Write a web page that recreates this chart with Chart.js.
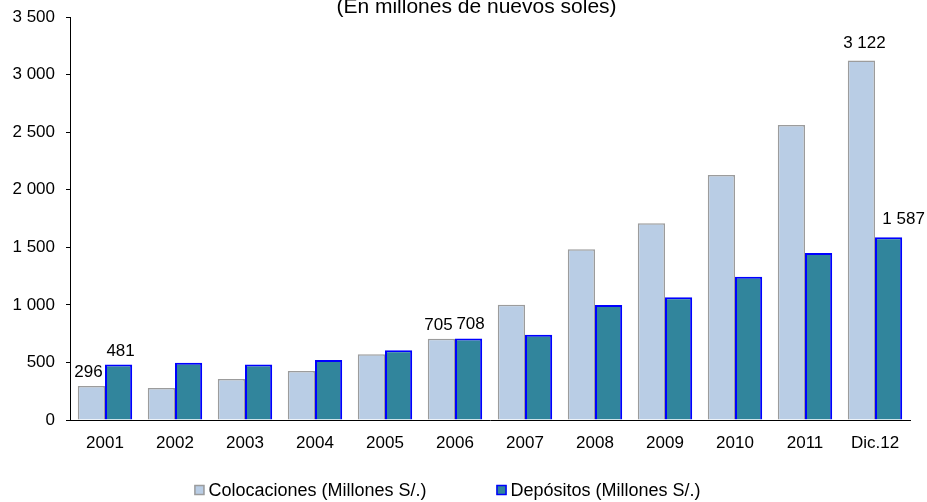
<!DOCTYPE html>
<html>
<head>
<meta charset="utf-8">
<script src="https://cdn.jsdelivr.net/npm/chart.js@4/dist/chart.umd.min.js"></script>
<style>
  html, body { margin: 0; padding: 0; background: #fff; }
  #wrap { width: 927px; height: 502px; position: relative; }
</style>
</head>
<body>
<div id="wrap"><canvas id="c" width="927" height="502"></canvas></div>
<script>
// Categories and series (millones de nuevos soles)
const years = ['2001', '2002', '2003', '2004', '2005', '2006', '2007', '2008', '2009', '2010', '2011', 'Dic.12'];
const colocaciones = [296, 278, 356, 426, 570, 705, 1002, 1482, 1708, 2128, 2563, 3122];
const depositos = [481, 498, 483, 521, 605, 708, 741, 999, 1065, 1245, 1451, 1587];
const labeledYears = ['2001', '2006', 'Dic.12'];
const yTicks = [0, 500, 1000, 1500, 2000, 2500, 3000, 3500];
const titleText = '(En millones de nuevos soles)';
const seriesNames = ['Colocaciones (Millones S/.)', 'Depósitos (Millones S/.)'];

const FONT = '"Liberation Sans", Arial, sans-serif';

// Thousands separated by a space: 3122 -> "3 122"
function fmt(v) {
  return String(Math.round(v)).replace(/\B(?=(\d{3})+(?!\d))/g, ' ');
}

// Value labels above the bars for selected years
const valueLabels = {
  id: 'valueLabels',
  afterDatasetsDraw(chart) {
    const ctx = chart.ctx;
    // nudges per series so the paired labels don't touch
    const dxSeries = [-3, 2];
    ctx.save();
    ctx.font = '17px ' + FONT;
    ctx.fillStyle = '#000';
    ctx.textAlign = 'center';
    ctx.textBaseline = 'alphabetic';
    chart.data.datasets.forEach((ds, di) => {
      const meta = chart.getDatasetMeta(di);
      meta.data.forEach((bar, i) => {
        const cat = chart.data.labels[i];
        if (!labeledYears.includes(cat)) return;
        const last = i === chart.data.labels.length - 1;
        let dx = dxSeries[di];
        if (last) dx = di === 0 ? 3 : 15;
        const gap = last ? 13 : 9;
        ctx.fillText(fmt(ds.data[i]), bar.x + dx, bar.y - gap);
      });
    });
    ctx.restore();
  }
};

// Title at top, clipped by the canvas edge
const topTitle = {
  id: 'topTitle',
  afterDraw(chart) {
    const ctx = chart.ctx;
    ctx.save();
    ctx.font = '21px ' + FONT;
    ctx.fillStyle = '#000';
    ctx.textAlign = 'center';
    ctx.textBaseline = 'alphabetic';
    ctx.fillText(titleText, chart.width / 2 + 13, 12.5);
    ctx.restore();
  }
};

// Legend row along the bottom
const bottomLegend = {
  id: 'bottomLegend',
  afterDraw(chart) {
    const ctx = chart.ctx;
    ctx.save();
    ctx.font = '18px ' + FONT;
    ctx.textBaseline = 'middle';
    ctx.textAlign = 'left';
    const box = 10, gapText = 4, gapItems = 70;
    const items = chart.data.datasets.map(ds => ({
      text: ds.label, fill: ds.backgroundColor, stroke: ds.borderColor, lw: ds.borderWidth
    }));
    let total = 0;
    items.forEach((it, k) => {
      it.w = box + gapText + ctx.measureText(it.text).width;
      total += it.w + (k ? gapItems : 0);
    });
    let x = chart.width / 2 - 16 - total / 2;
    const y = 490;
    items.forEach(it => {
      ctx.fillStyle = it.fill;
      ctx.fillRect(x, y - box / 2, box, box);
      ctx.strokeStyle = it.stroke;
      ctx.lineWidth = Math.min(it.lw, 1.5);
      ctx.strokeRect(x + 0.5, y - box / 2 + 0.5, box - 1, box - 1);
      ctx.fillStyle = '#000';
      ctx.fillText(it.text, x + box + gapText, y + 1);
      x += it.w + gapItems;
    });
    ctx.restore();
  }
};

new Chart(document.getElementById('c'), {
  type: 'bar',
  data: {
    labels: years,
    datasets: [
      {
        label: seriesNames[0],
        data: colocaciones,
        backgroundColor: '#B9CDE5',
        borderColor: '#9C9C9C',
        borderWidth: 1.5
      },
      {
        label: seriesNames[1],
        data: depositos,
        backgroundColor: '#31859C',
        borderColor: '#0000FF',
        borderWidth: 2
      }
    ]
  },
  options: {
    responsive: false,
    animation: false,
    devicePixelRatio: 1,
    layout: { padding: { top: 17, right: 17, left: 0, bottom: 0 } },
    datasets: {
      bar: { categoryPercentage: 0.777, barPercentage: 1.0 }
    },
    plugins: {
      legend: { display: false },
      title: { display: false },
      tooltip: { enabled: false }
    },
    scales: {
      x: {
        grid: { display: false },
        border: { display: true, color: '#000', width: 1 },
        ticks: {
          color: '#000',
          font: { family: FONT, size: 17 },
          padding: 5,
          maxRotation: 0
        },
        afterFit(scale) {
          scale.height = 82;
          scale.paddingLeft = 0;
          scale.paddingRight = 0;
        }
      },
      y: {
        min: 0,
        max: 3500,
        afterBuildTicks(scale) { scale.ticks = yTicks.map(v => ({ value: v })); },
        grid: {
          drawOnChartArea: false,
          drawTicks: true,
          tickLength: 4,
          color: '#000'
        },
        border: { display: true, color: '#000', width: 1 },
        ticks: {
          color: '#000',
          font: { family: FONT, size: 17 },
          padding: 11,
          callback: v => fmt(v)
        },
        afterFit(scale) {
          scale.width = 70;
          scale.paddingTop = 0;
          scale.paddingBottom = 0;
        }
      }
    }
  },
  plugins: [valueLabels, topTitle, bottomLegend]
});
</script>
</body>
</html>
